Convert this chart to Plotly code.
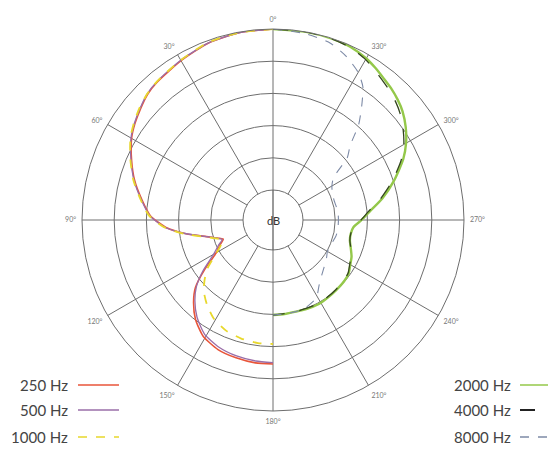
import plotly.graph_objects as go

# ---- data (dB) ----
LEFT_DEG = [0, 10, 20, 30, 40, 45, 50, 55, 60, 67, 74, 81, 88, 94, 99, 104, 109, 111,
            115, 120, 126, 131, 136, 142, 149, 157, 165, 173, 180]
DB_250 = [0, -0.1, -0.4, -1.1, -1.7, -2.1, -2.8, -3.5, -4.3, -5.8, -7.3, -9.0, -10.6, -13.0,
          -16.0, -19.0, -20.9, -21.4, -20.6, -19.5, -16.5, -13.7, -11.9, -10.1, -8.6, -7.8,
          -7.5, -7.3, -7.3]
DB_500 = [0, -0.1, -0.4, -1.0, -1.6, -2.0, -2.7, -3.4, -4.2, -5.7, -7.2, -8.9, -10.5, -12.9,
          -16.0, -19.0, -20.8, -21.2, -20.3, -19.0, -16.2, -13.9, -12.2, -10.5, -9.0, -8.2,
          -7.8, -7.6, -7.5]
DB_1000 = [0, -0.1, -0.3, -1.0, -1.6, -2.0, -2.6, -3.3, -4.1, -5.6, -7.1, -8.8, -10.4, -12.8,
           -15.8, -18.8, -20.7, -21.2, -20.8, -19.6, -17.2, -15.6, -14.2, -13.0, -11.8, -11.0,
           -10.6, -10.4, -10.4]

RIGHT_DEG = [360, 350, 342, 336, 330, 326, 322, 318, 314, 310, 305, 300, 295, 288, 281, 275,
             270, 265, 260, 255, 250, 245, 240, 235, 230, 222, 215, 209, 200, 194, 187, 180]
DB_2000 = [0, 0, -0.05, -0.2, -0.7, -1.2, -1.75, -2.2, -2.75, -3.4, -4.5, -5.8, -7.35, -9.9,
           -12.4, -14.6, -15.9, -17.1, -17.4, -17.3, -16.8, -16.2, -15.8, -15.3, -15.1, -15.0,
           -14.9, -14.8, -14.9, -15.0, -14.95, -14.9]
DB_4000 = [0, 0, -0.1, -0.3, -0.9, -1.5, -2.1, -2.6, -3.2, -3.9, -5.0, -6.2, -7.7, -10.2,
           -12.7, -14.8, -16.0, -17.1, -17.4, -17.3, -16.8, -16.3, -15.9, -15.4, -15.2, -15.1,
           -15.0, -14.9, -15.0, -15.0, -15.0, -14.9]
DB_8000 = [0, -0.3, -0.8, -1.8, -3.2, -4.7, -7.3, -9.8, -13.0, -14.6, -18.2, -19.1, -19.5,
           -19.7, -19.6, -19.5, -19.5, -19.5, -19.5, -19.6, -19.8, -19.9, -19.9, -19.5, -19.1,
           -18.3, -17.2, -15.8, -15.1, -15.0, -14.95, -14.9]

ANGLE_TICKS = [0, 30, 60, 90, 120, 150, 180, 210, 240, 270, 300, 330]
ANGLE_LABELS = ["0°", "30°", "60°", "90°", "120°", "150°", "180°", "210°", "240°", "270°",
                "300°", "330°"]
RING_TICKS = [-25, -20, -15, -10, -5, 0]

LEFT_NAMES = ["250 Hz", "500 Hz", "1000 Hz"]
RIGHT_NAMES = ["2000 Hz", "4000 Hz", "8000 Hz"]

# ---- layout geometry (window pixels; page body adds an 8px margin) ----
W, H = 556, 449
OFF = 8
CX, CY, R = 273 - OFF, 220 - OFF, 191
GRID = "#6e6e6e"


def px(x):
    return (x - OFF) / W


def py(y):
    return (H - (y - OFF)) / H


styles = {
    "250 Hz": dict(color="#e8553a", width=1.6, dash="solid"),
    "500 Hz": dict(color="#9a6ea8", width=1.3, dash="solid"),
    "1000 Hz": dict(color="#e8d82c", width=1.8, dash="dash"),
    "2000 Hz": dict(color="#94c84a", width=2.4, dash="solid"),
    "4000 Hz": dict(color="#34461f", width=1.3, dash="longdash"),
    "8000 Hz": dict(color="#7d8aa6", width=1.1, dash="dash"),
}

fig = go.Figure()
for name, vals in zip(LEFT_NAMES, [DB_250, DB_500, DB_1000]):
    fig.add_trace(go.Scatterpolar(theta=LEFT_DEG, r=vals, mode="lines", name=name,
                                  line=dict(shape="spline", smoothing=0.6, **styles[name]),
                                  showlegend=False))
for name, vals in zip(RIGHT_NAMES, [DB_2000, DB_4000, DB_8000]):
    fig.add_trace(go.Scatterpolar(theta=RIGHT_DEG, r=vals, mode="lines", name=name,
                                  line=dict(shape="spline", smoothing=0.6, **styles[name]),
                                  showlegend=False))

dom_x = [(CX - R) / W, (CX + R) / W]
dom_y = [(H - CY - R) / H, (H - CY + R) / H]

fig.update_layout(
    width=W, height=H,
    margin=dict(l=0, r=0, t=0, b=0),
    paper_bgcolor="white",
    plot_bgcolor="white",
    font=dict(family="Lato, sans-serif", color="#333"),
    polar=dict(
        domain=dict(x=dom_x, y=dom_y),
        bgcolor="white",
        hole=30 / R,
        radialaxis=dict(range=[-25, 0], tickvals=RING_TICKS, showticklabels=False,
                        ticks="", showline=False, gridcolor=GRID, gridwidth=1),
        angularaxis=dict(rotation=90, direction="counterclockwise",
                         tickvals=ANGLE_TICKS, ticktext=ANGLE_LABELS,
                         tickfont=dict(size=7, color="#777"),
                         ticks="outside", ticklen=4, tickcolor="rgba(0,0,0,0)",
                         showline=True, linecolor=GRID, linewidth=1,
                         gridcolor=GRID, gridwidth=1),
    ),
)

# vertical 0-180 line through the hole and the dB label
cxp = CX / W
cyp = (H - CY) / H
fig.add_shape(type="line", xref="paper", yref="paper", x0=cxp, x1=cxp,
              y0=(H - CY - 30) / H, y1=(H - CY + 30) / H,
              line=dict(color="#555", width=1.2), layer="above")
fig.add_annotation(x=cxp, y=cyp, xref="paper", yref="paper", text="dB", showarrow=False,
                   font=dict(size=11, color="#333"))

# legends: text then line sample
rows_y = [385, 410, 437]
for name, yy in zip(LEFT_NAMES, rows_y):
    fig.add_annotation(x=px(70), y=py(yy), xref="paper", yref="paper", text=name,
                       showarrow=False, xanchor="right", yanchor="middle",
                       font=dict(size=15, color="#444"))
    st = styles[name]
    fig.add_shape(type="line", xref="paper", yref="paper", x0=px(78), x1=px(119),
                  y0=py(yy), y1=py(yy),
                  line=dict(color=st["color"], width=min(st["width"], 1.4), dash=st["dash"]))
for name, yy in zip(RIGHT_NAMES, rows_y):
    fig.add_annotation(x=px(513), y=py(yy), xref="paper", yref="paper", text=name,
                       showarrow=False, xanchor="right", yanchor="middle",
                       font=dict(size=15, color="#444"))
    st = styles[name]
    col = "#222" if name == "4000 Hz" else st["color"]
    wd = 2 if name == "4000 Hz" else 1.4
    fig.add_shape(type="line", xref="paper", yref="paper", x0=px(520), x1=px(556),
                  y0=py(yy), y1=py(yy), line=dict(color=col, width=wd, dash=st["dash"]))

fig.write_html("out.html")
